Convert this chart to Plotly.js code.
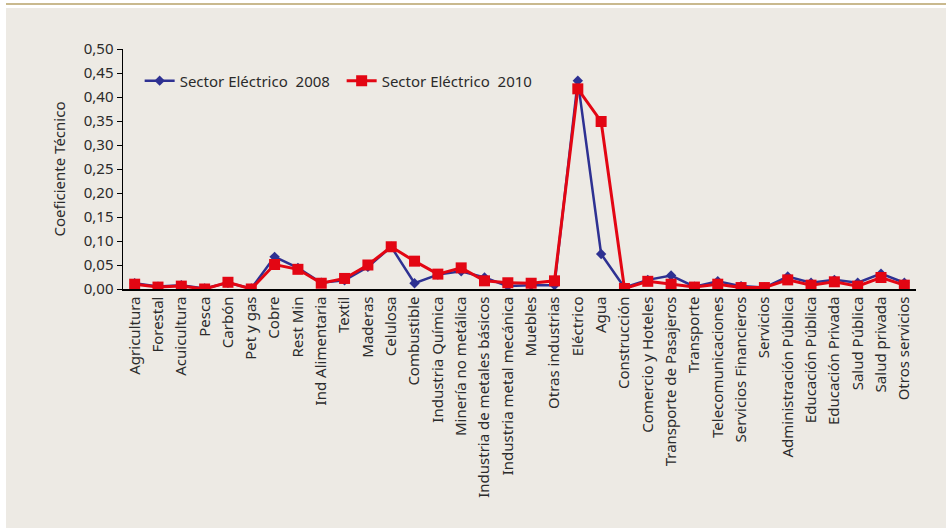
<!DOCTYPE html>
<html>
<head>
<meta charset="utf-8">
<script src="https://cdn.plot.ly/plotly-3.0.1.min.js"></script>
<style>
  html, body { margin: 0; padding: 0; background: #ffffff; width: 946px; height: 528px; overflow: hidden; }
  #topline { position: absolute; left: 6px; top: 3px; width: 940px; height: 2px; background: #C9B98E; }
  #chart { position: absolute; left: 6px; top: 8px; width: 940px; height: 520px; }
</style>
</head>
<body>
<div id="topline"></div>
<div id="chart"></div>
<script>
const categories = [
  "Agricultura", "Forestal", "Acuicultura", "Pesca", "Carbón", "Pet y gas", "Cobre", "Rest Min",
  "Ind Alimentaria", "Textil", "Maderas", "Celulosa", "Combustible", "Industria Química",
  "Minería no metálica", "Industria de metales básicos", "Industria metal mecánica", "Muebles",
  "Otras industrias", "Eléctrico", "Agua", "Construcción", "Comercio y Hoteles",
  "Transporte de Pasajeros", "Transporte", "Telecomunicaciones", "Servicios Financieros",
  "Servicios", "Administración Pública", "Educación Pública", "Educación Privada",
  "Salud Pública", "Salud privada", "Otros servicios"
];

const sector2008 = [
  0.012, 0.005, 0.008, 0.001, 0.013, 0.001, 0.067, 0.044,
  0.013, 0.018, 0.046, 0.088, 0.012, 0.030,
  0.037, 0.024, 0.006, 0.008,
  0.008, 0.434, 0.073, 0.003, 0.019,
  0.028, 0.005, 0.016, 0.006,
  0.003, 0.026, 0.013, 0.019,
  0.013, 0.032, 0.013
];

const sector2010 = [
  0.010, 0.004, 0.006, 0.000, 0.014, 0.000, 0.051, 0.041,
  0.012, 0.022, 0.050, 0.088, 0.058, 0.031,
  0.044, 0.017, 0.013, 0.012,
  0.017, 0.417, 0.349, 0.001, 0.016,
  0.010, 0.004, 0.010, 0.003,
  0.003, 0.019, 0.008, 0.015,
  0.006, 0.024, 0.008
];

const yTickVals = [0, 0.05, 0.1, 0.15, 0.2, 0.25, 0.3, 0.35, 0.4, 0.45, 0.5];
const yTickText = ["0,00", "0,05", "0,10", "0,15", "0,20", "0,25", "0,30", "0,35", "0,40", "0,45", "0,50"];

const FONT = "Noto Sans, Open Sans, sans-serif";
const TXT = "#2b2b2b";

const traces = [
  {
    x: categories, y: sector2008, name: "Sector Eléctrico  2008",
    type: "scatter", mode: "lines+markers",
    line: { color: "#2E3192", width: 2.5 },
    marker: { symbol: "diamond", size: 8, color: "#2E3192" }
  },
  {
    x: categories, y: sector2010, name: "Sector Eléctrico  2010",
    type: "scatter", mode: "lines+markers",
    line: { color: "#E30613", width: 3 },
    marker: { symbol: "square", size: 11, color: "#E30613" }
  }
];

const layout = {
  width: 940, height: 520,
  paper_bgcolor: "#EDEAE4",
  plot_bgcolor: "#EDEAE4",
  margin: { l: 117, r: 30, t: 41, b: 239 },
  font: { family: FONT, color: TXT, size: 15 },
  showlegend: true,
  legend: {
    orientation: "h",
    x: 0.021, xanchor: "left",
    y: 0.867, yanchor: "middle",
    bgcolor: "rgba(0,0,0,0)",
    font: { family: FONT, size: 15, color: TXT },
    entrywidth: 157,
    traceorder: "normal"
  },
  xaxis: {
    type: "category",
    range: [-0.5, categories.length - 0.5],
    tickangle: -90,
    showgrid: false,
    zeroline: false,
    showline: true, linecolor: "#000000", linewidth: 1.5,
    ticks: "",
    tickfont: { family: FONT, size: 15, color: TXT },
    fixedrange: true
  },
  yaxis: {
    range: [0, 0.5],
    tickvals: yTickVals, ticktext: yTickText,
    showgrid: false, zeroline: false,
    showline: true, linecolor: "#000000", linewidth: 1.5,
    ticks: "outside", ticklen: 5, tickcolor: "#000000", tickwidth: 1,
    tickfont: { family: FONT, size: 15, color: TXT },
    title: { text: "Coeficiente Técnico", font: { family: FONT, size: 15, color: TXT }, standoff: 14 },
    fixedrange: true
  }
};

Plotly.newPlot("chart", traces, layout, { displayModeBar: false, staticPlot: true });
</script>
</body>
</html>
